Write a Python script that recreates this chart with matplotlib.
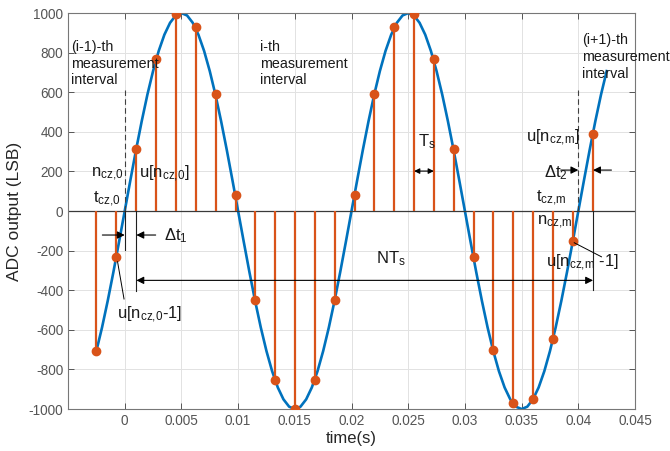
import matplotlib
matplotlib.use('Agg')
import matplotlib.pyplot as plt
import numpy as np

plt.rcParams['font.family'] = ['Liberation Sans', 'DejaVu Sans']
plt.rcParams['mathtext.fontset'] = 'custom'
plt.rcParams['mathtext.rm'] = 'Liberation Sans'
plt.rcParams['mathtext.it'] = 'Liberation Sans:italic'
plt.rcParams['axes.unicode_minus'] = False

sample_t = [-0.0025, -0.00073, 0.00103, 0.00275, 0.00453, 0.00626, 0.00802, 0.00978,
            0.01150, 0.01328, 0.01502, 0.01678, 0.01852, 0.02027, 0.02202, 0.02376,
            0.02552, 0.02726, 0.02902, 0.03076, 0.03250, 0.03425, 0.03604, 0.03778,
            0.03954, 0.04130]
sample_v = [-705, -231, 312, 767, 993, 931, 589, 80, -449, -853, -1000, -853, -449, 80,
            589, 931, 993, 766, 312, -231, -702, -971, -950, -648, -153, 387]

# continuous signal, read every 0.5 ms from -2.5 ms to 42.5 ms
curve_t = np.linspace(-0.0025, 0.0425, 91)
curve_v = [-707, -588, -454, -309, -156,
           0, 156, 309, 454, 588, 707, 809, 891, 951, 988,
           1000, 988, 951, 891, 809, 707, 588, 454, 309, 156,
           0, -156, -309, -454, -588, -707, -809, -891, -951, -988,
           -1000, -988, -951, -891, -809, -707, -588, -454, -309, -156,
           0, 156, 309, 454, 588, 707, 809, 891, 951, 988,
           1000, 988, 951, 891, 809, 707, 588, 454, 309, 156,
           0, -156, -309, -454, -588, -707, -809, -891, -951, -988,
           -1000, -988, -951, -891, -809, -707, -588, -454, -309, -156,
           0, 156, 309, 454, 588, 707]

xticks = [0, 0.005, 0.01, 0.015, 0.02, 0.025, 0.03, 0.035, 0.04, 0.045]
xtick_labels = ['0', '0.005', '0.01', '0.015', '0.02', '0.025', '0.03', '0.035', '0.04', '0.045']
yticks = [-1000, -800, -600, -400, -200, 0, 200, 400, 600, 800, 1000]

zero_cross = [0.0, 0.0400]   # start / end of the i-th interval

blue = '#0072BD'
orange = '#D95319'

fig = plt.figure(figsize=(6.7, 4.51), dpi=100)
ax = fig.add_axes([0.1015, 0.093, 0.8463, 0.878])

ax.plot(curve_t, curve_v, color=blue, lw=1.9, zorder=2)
markerline, stemlines, baseline = ax.stem(sample_t, sample_v, basefmt=' ')
plt.setp(stemlines, color=orange, lw=1.6, zorder=3)
plt.setp(markerline, color=orange, markersize=6, zorder=4)
ax.axhline(0, color='#3a3a3a', lw=0.9, zorder=2.5)

ax.set_xlim(-0.005, 0.045)
ax.set_ylim(-1000, 1000)
ax.set_xticks(xticks)
ax.set_xticklabels(xtick_labels)
ax.set_yticks(yticks)
ax.tick_params(direction='in', length=4, top=True, right=True, labelsize=9.8,
               colors='#555555', width=0.7)
ax.grid(True, color='#e2e2e2', lw=0.7)
ax.set_axisbelow(True)
for s in ax.spines.values():
    s.set_color('#777777')
    s.set_linewidth(0.8)

ax.set_xlabel('time(s)', fontsize=12, color='#262626', labelpad=2)
ax.set_ylabel('ADC output (LSB)', fontsize=12.5, color='#262626', labelpad=5)

# guide lines
dash = dict(color='#404040', lw=0.8, ls=(0, (5, 3)), zorder=5)
ax.plot([zero_cross[0]] * 2, [0, 611], **dash)
ax.plot([zero_cross[1]] * 2, [0, 611], **dash)
solid = dict(color='#202020', lw=0.8, zorder=5)
ax.plot([zero_cross[0]] * 2, [0, -197], **solid)
ax.plot([sample_t[2]] * 2, [0, -403], **solid)
ax.plot([sample_t[-1]] * 2, [0, -400], **solid)

def arrow(x0, y0, x1, y1, style='-|>', ms=11):
    ax.annotate('', xy=(x1, y1), xytext=(x0, y0),
                arrowprops=dict(arrowstyle=style, color='k', lw=0.8,
                                mutation_scale=ms, shrinkA=0, shrinkB=0),
                zorder=6)

# delta t1
arrow(-0.00197, -121, zero_cross[0], -121)
arrow(0.00273, -121, sample_t[2], -121)
# N Ts
arrow(sample_t[2], -350, sample_t[-1], -350, style='<|-|>')
# delta t2
arrow(0.03845, 207, zero_cross[1], 207)
arrow(0.04292, 207, sample_t[-1], 207)
# Ts
arrow(sample_t[16], 202, sample_t[17], 202, style='<|-|>', ms=8)

# annotation leaders
ax.plot([sample_t[1] + 0.0001, -0.00006], [-256, -444], color='k', lw=0.7, zorder=5)
ax.plot([sample_t[-2] + 0.0001, 0.04204], [-160, -231], color='k', lw=0.7, zorder=5)

blk = dict(fontsize=10.3, color='#1a1a1a', va='center', ha='left', linespacing=1.25, zorder=7)
ax.text(-0.00476, 745, '(i-1)-th\nmeasurement\ninterval', **blk)
ax.text(0.0119, 745, 'i-th\nmeasurement\ninterval', **blk)
ax.text(0.04036, 777, '(i+1)-th\nmeasurement\ninterval', **blk)

lab = dict(fontsize=12, color='#1a1a1a', va='baseline', ha='left', zorder=7)
ax.text(-0.0030, 172, r'n$_{\mathrm{cz{,}0}}$', **lab)
ax.text(-0.0028, 40, r't$_{\mathrm{cz{,}0}}$', **lab)
ax.text(0.00123, 167, r'u[n$_{\mathrm{cz{,}0}}$]', **lab)
ax.text(-0.00064, -545, r'u[n$_{\mathrm{cz{,}0}}$-1]', **lab)
ax.text(0.00347, -150, r'Δt$_{1}$', **lab)
ax.text(0.02216, -263, r'NT$_{\mathrm{s}}$', **lab)
ax.text(0.0259, 325, r'T$_{\mathrm{s}}$', **lab)
ax.text(0.03536, 350, r'u[n$_{\mathrm{cz{,}m}}$]', **lab)
ax.text(0.03695, 172, r'Δt$_{2}$', **lab)
ax.text(0.03624, 45, r't$_{\mathrm{cz{,}m}}$', **lab)
ax.text(0.03633, -71, r'n$_{\mathrm{cz{,}m}}$', **lab)
ax.text(0.03719, -281, r'u[n$_{\mathrm{cz{,}m}}$ -1]', **lab)

fig.savefig('out.png', dpi=100)
